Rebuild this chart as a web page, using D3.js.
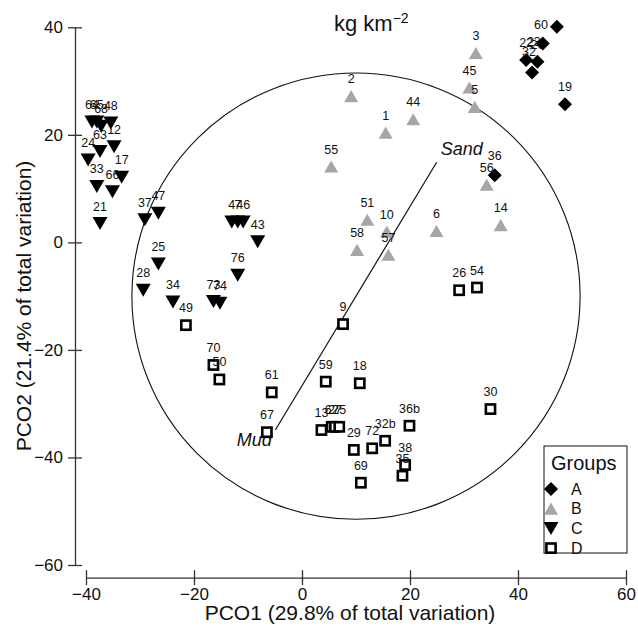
<!DOCTYPE html>
<html>
<head>
<meta charset="utf-8">
<script src="https://cdn.jsdelivr.net/npm/d3@7"></script>
<style>
  body { margin: 0; background: #fff; }
  svg { display: block; font-family: "Liberation Sans", Arial, sans-serif; }
</style>
</head>
<body>
<svg id="chart" width="638" height="629"></svg>
<script>
// PCO ordination of sites, coloured by group (kg km^-2)
const groupNames = ["A", "B", "C", "D"];
const xTicks = [-40, -20, 0, 20, 40, 60];
const yTicks = [-60, -40, -20, 0, 20, 40];

// [site, PCO1, PCO2]
const groupA = [
  ["22", 41.5, 33.9], ["20", 43.6, 33.6], ["32", 42.6, 31.6], ["23", 44.6, 37.0],
  ["60", 47.2, 40.1], ["19", 48.7, 25.7], ["36", 35.7, 12.5]
];
const groupB = [
  ["3", 32.2, 35.2], ["45", 31.0, 28.8], ["5", 32.0, 25.2], ["2", 9.1, 27.2],
  ["44", 20.6, 22.9], ["1", 15.5, 20.4], ["55", 5.4, 14.1], ["51", 12.1, 4.2],
  ["10", 15.7, 2.0], ["58", 10.2, -1.4], ["57", 16.0, -2.3], ["6", 24.9, 2.1],
  ["56", 34.2, 10.7], ["14", 36.8, 3.2]
];
const groupC = [
  ["64", -38.9, 22.4], ["65", -38.0, 22.4], ["68", -37.2, 21.6], ["48", -35.4, 22.2],
  ["63", -37.4, 16.9], ["12", -34.8, 17.8], ["24", -39.6, 15.3], ["17", -33.4, 12.1],
  ["33", -38.0, 10.4], ["66", -35.1, 9.4], ["21", -37.4, 3.5], ["37", -29.1, 4.2],
  ["47", -26.6, 5.4], ["25", -26.6, -4.0], ["28", -29.4, -8.9], ["34", -23.9, -11.1],
  ["4", -13.0, 3.8], ["7", -11.9, 3.8], ["46", -10.9, 3.8], ["43", -8.2, 0.1],
  ["76", -11.9, -6.1], ["73", -16.4, -11.0], ["74", -15.2, -11.3]
];
const groupD = [
  ["49", -21.5, -15.4], ["70", -16.4, -22.8], ["50", -15.3, -25.5], ["61", -5.6, -27.9],
  ["67", -6.5, -35.3], ["59", 4.4, -25.9], ["9", 7.6, -15.2], ["18", 10.7, -26.2],
  ["13", 3.6, -34.9], ["62", 5.5, -34.3], ["27", 6.1, -34.3], ["75", 6.9, -34.3],
  ["29", 9.6, -38.6], ["72", 13.0, -38.3], ["32b", 15.4, -36.9], ["36b", 19.9, -34.1],
  ["38", 19.1, -41.4], ["35", 18.6, -43.4], ["69", 10.9, -44.7], ["26", 29.1, -8.9],
  ["54", 32.4, -8.4], ["30", 34.9, -31.0]
];

// Vector overlay: correlation circle and the Mud–Sand axis
const vectorNames = ["Sand", "Mud"];
const vectorCorr = [[0.36, 0.60], [-0.36, -0.60]];
const circleCentre = [10, -10];
const circleRadius = 41.5;

const svg = d3.select("#chart");

const x = d3.scaleLinear().domain([-40, 60]).range([86, 626]);
const y = d3.scaleLinear().domain([-60, 40]).range([565, 27.3]);

// Axes (detached, ticks crossing the axis line)
const xAxis = svg.append("g")
  .attr("transform", "translate(0,577.7)")
  .call(d3.axisBottom(x).tickValues(xTicks).tickSizeInner(7.5).tickSizeOuter(0).tickPadding(2.5));
xAxis.selectAll(".tick line").attr("y1", -7.5);
const yAxis = svg.append("g")
  .attr("transform", "translate(75,0)")
  .call(d3.axisLeft(y).tickValues(yTicks).tickSizeInner(7).tickSizeOuter(0).tickPadding(5));
yAxis.selectAll(".tick line").attr("x1", 7);
[xAxis, yAxis].forEach(g => {
  g.select(".domain").attr("stroke", "#333").attr("stroke-width", 1.3);
  g.selectAll(".tick line").attr("stroke", "#333").attr("stroke-width", 1.3);
  g.selectAll(".tick text").attr("font-size", 17).attr("fill", "#111")
    .attr("font-family", "'Liberation Sans', Arial, sans-serif");
});

svg.append("text")
  .attr("x", 350).attr("y", 620)
  .attr("text-anchor", "middle").attr("font-size", 21).attr("fill", "#111")
  .text("PCO1 (29.8% of total variation)");
svg.append("text")
  .attr("transform", "translate(31,306) rotate(-90)")
  .attr("text-anchor", "middle").attr("font-size", 21).attr("fill", "#111")
  .text("PCO2 (21.4% of total variation)");

// Title with superscript unit
const title = svg.append("text").attr("x", 334).attr("y", 31).attr("font-size", 22).attr("fill", "#111");
title.append("tspan").text("kg km");
title.append("tspan").attr("font-size", 14).attr("dy", -8).text("\u22122");

// Correlation circle
const cx = x(circleCentre[0]), cy = y(circleCentre[1]);
svg.append("ellipse")
  .attr("cx", cx).attr("cy", cy)
  .attr("rx", x(circleCentre[0] + circleRadius) - cx)
  .attr("ry", cy - y(circleCentre[1] + circleRadius))
  .attr("fill", "none").attr("stroke", "#111").attr("stroke-width", 1.1);

const ends = vectorCorr.map(c => [
  x(circleCentre[0] + c[0] * circleRadius),
  y(circleCentre[1] + c[1] * circleRadius)
]);
svg.append("line")
  .attr("x1", ends[0][0]).attr("y1", ends[0][1])
  .attr("x2", ends[1][0]).attr("y2", ends[1][1])
  .attr("stroke", "#111").attr("stroke-width", 1.2);
const vecLabelShift = [[25, -13], [-21, 10]];
svg.selectAll(".vec-label").data(vectorNames).join("text")
  .attr("class", "vec-label")
  .attr("x", (d, i) => ends[i][0] + vecLabelShift[i][0])
  .attr("y", (d, i) => ends[i][1] + vecLabelShift[i][1])
  .attr("text-anchor", "middle").attr("dominant-baseline", "central")
  .attr("font-size", 18).attr("font-style", "italic").attr("fill", "#111")
  .text(d => d);

// Marker shapes per group
const shapes = {
  A: g => g.append("path").attr("d", "M0,-7L7,0L0,7L-7,0Z").attr("fill", "#000"),
  B: g => g.append("path").attr("d", "M-7,6L7,6L0,-6.1Z").attr("fill", "#a6a6a6"),
  C: g => g.append("path").attr("d", "M-7.5,-6.5L7.5,-6.5L0,6.5Z").attr("fill", "#000"),
  D: g => g.append("rect").attr("x", -4.6).attr("y", -4.6).attr("width", 9.2).attr("height", 9.2)
            .attr("fill", "#fff").attr("stroke", "#000").attr("stroke-width", 2.6)
};

// Label placement: above the marker unless listed here
const labelShift = { "60": [-16, -2], "23": [-9, -1], "32": [-3, -20], "36": [0, -19] };

const allGroups = [groupA, groupB, groupC, groupD];
allGroups.forEach((rows, gi) => {
  const name = groupNames[gi];
  rows.forEach(([site, p1, p2]) => {
    const g = svg.append("g").attr("transform", `translate(${x(p1)},${y(p2)})`);
    shapes[name](g);
    const s = labelShift[site] || [0, -17];
    g.append("text")
      .attr("x", s[0]).attr("y", s[1])
      .attr("text-anchor", "middle").attr("dominant-baseline", "central")
      .attr("font-size", 12.5).attr("fill", "#111")
      .text(site);
  });
});

// Legend
const legend = svg.append("g");
legend.append("rect")
  .attr("x", 544).attr("y", 446).attr("width", 83).attr("height", 107)
  .attr("fill", "#fff").attr("stroke", "#111").attr("stroke-width", 1);
legend.append("text").attr("x", 551).attr("y", 470).attr("font-size", 20).attr("fill", "#111").text("Groups");
groupNames.forEach((name, i) => {
  const row = legend.append("g").attr("transform", `translate(551,${489 + i * 19.7})`);
  shapes[name](row);
  row.append("text").attr("x", 20).attr("y", 0).attr("dominant-baseline", "central")
    .attr("font-size", 16).attr("fill", "#111").text(name);
});
</script>
</body>
</html>
